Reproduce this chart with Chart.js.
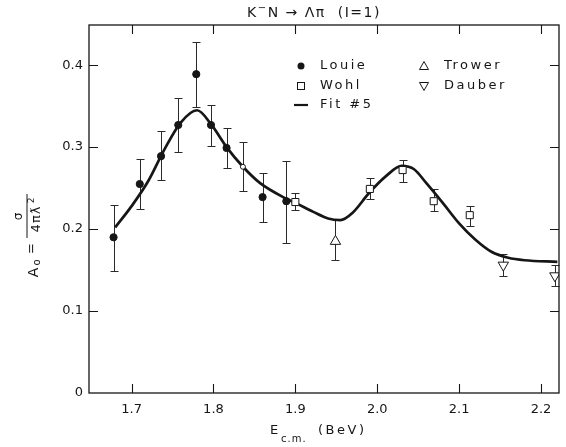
<!DOCTYPE html>
<html>
<head>
<meta charset="utf-8">
<script src="https://cdn.jsdelivr.net/npm/chart.js@4.4.0/dist/chart.umd.min.js"></script>
<style>
  html, body { margin: 0; padding: 0; background: #fff; }
</style>
</head>
<body>
<canvas id="chart" width="566" height="447"></canvas>
<script>
// values (E in BeV, A0 dimensionless)
const louieE  = [1.678, 1.710, 1.736, 1.757, 1.779, 1.797, 1.816, 1.836, 1.860, 1.889];
const louieA  = [0.190, 0.255, 0.289, 0.327, 0.389, 0.327, 0.299, 0.276, 0.239, 0.234];
const louieLo = [0.149, 0.224, 0.260, 0.294, 0.349, 0.301, 0.274, 0.246, 0.209, 0.183];
const louieHi = [0.229, 0.285, 0.320, 0.360, 0.428, 0.352, 0.323, 0.306, 0.268, 0.283];

const wohlE  = [1.900, 1.991, 2.031, 2.069, 2.113];
const wohlA  = [0.233, 0.249, 0.272, 0.234, 0.217];
const wohlLo = [0.223, 0.237, 0.257, 0.222, 0.204];
const wohlHi = [0.244, 0.262, 0.284, 0.249, 0.228];

const trowerE  = [1.949];
const trowerA  = [0.185];
const trowerLo = [0.162];
const trowerHi = [0.212];

const dauberE  = [2.154, 2.217];
const dauberA  = [0.156, 0.143];
const dauberLo = [0.143, 0.130];
const dauberHi = [0.170, 0.156];

const fitE = [1.68, 1.70, 1.72, 1.74, 1.76, 1.78, 1.797, 1.816, 1.836, 1.857, 1.889, 1.90, 1.922, 1.94,
              1.955, 1.97, 1.99, 2.01, 2.03, 2.045, 2.06, 2.08, 2.10, 2.12, 2.14, 2.16, 2.18, 2.22];
const fitA = [0.202, 0.228, 0.258, 0.297, 0.330, 0.345, 0.328, 0.300, 0.276, 0.256, 0.237, 0.232, 0.221, 0.213,
              0.211, 0.220, 0.244, 0.264, 0.277, 0.273, 0.256, 0.232, 0.207, 0.187, 0.172, 0.165, 0.162, 0.160];

const xTickValues = [1.7, 1.8, 1.9, 2.0, 2.1, 2.2];
const yTickValues = [0, 0.1, 0.2, 0.3, 0.4];

const INK = '#161616';
const FONT = '"DejaVu Sans", sans-serif';

function pts(xs, ys) {
  return xs.map((x, i) => ({x: x, y: ys[i]}));
}

const errSets = [
  {e: louieE, lo: louieLo, hi: louieHi},
  {e: wohlE, lo: wohlLo, hi: wohlHi},
  {e: trowerE, lo: trowerLo, hi: trowerHi},
  {e: dauberE, lo: dauberLo, hi: dauberHi}
];

// the 1.836 point is drawn open in the original
const louieFill = louieE.map((e, i) => i === 7 ? '#fff' : INK);
const louieR = louieE.map((e, i) => i === 7 ? 2.5 : 3.6);

const errorBars = {
  id: 'errorBars',
  beforeDatasetsDraw(chart) {
    const ctx = chart.ctx, x = chart.scales.x, y = chart.scales.y;
    ctx.save();
    ctx.strokeStyle = '#2a2a2a';
    ctx.lineWidth = 1;
    errSets.forEach(s => {
      s.e.forEach((e, i) => {
        const px = Math.round(x.getPixelForValue(e)) + 0.5;
        const top = Math.round(y.getPixelForValue(s.hi[i])) + 0.5;
        const bot = Math.round(y.getPixelForValue(s.lo[i])) + 0.5;
        ctx.beginPath();
        ctx.moveTo(px, top); ctx.lineTo(px, bot);
        ctx.moveTo(px - 4, top); ctx.lineTo(px + 4, top);
        ctx.moveTo(px - 4, bot); ctx.lineTo(px + 4, bot);
        ctx.stroke();
      });
    });
    ctx.restore();
  }
};

// box round the plot with inward ticks on all four sides
const frame = {
  id: 'frame',
  afterDatasetsDraw(chart) {
    const ctx = chart.ctx, a = chart.chartArea, x = chart.scales.x, y = chart.scales.y;
    const tl = 9;
    ctx.save();
    ctx.strokeStyle = INK;
    ctx.lineWidth = 1.3;
    ctx.strokeRect(a.left, a.top, a.right - a.left, a.bottom - a.top);
    ctx.lineWidth = 1.1;
    ctx.beginPath();
    xTickValues.forEach(v => {
      const px = Math.round(x.getPixelForValue(v)) + 0.5;
      ctx.moveTo(px, a.bottom); ctx.lineTo(px, a.bottom - tl);
      ctx.moveTo(px, a.top); ctx.lineTo(px, a.top + tl);
    });
    yTickValues.forEach(v => {
      if (v === 0) return;
      const py = Math.round(y.getPixelForValue(v)) + 0.5;
      ctx.moveTo(a.left, py); ctx.lineTo(a.left + tl, py);
      ctx.moveTo(a.right, py); ctx.lineTo(a.right - tl, py);
    });
    ctx.stroke();
    ctx.restore();
  }
};

function spaced(ctx, px) {
  if ('letterSpacing' in ctx) ctx.letterSpacing = px + 'px';
}

const texts = {
  id: 'texts',
  afterDraw(chart) {
    const ctx = chart.ctx;
    ctx.save();
    ctx.fillStyle = INK;
    ctx.strokeStyle = INK;
    ctx.textBaseline = 'middle';

    // title K- N -> Lambda pi (I=1)
    spaced(ctx, 1.5);
    const parts = [['K', 0, 14], ['\u2212', -5, 10], ['N \u2192 \u039B\u03C0  (I=1)', 0, 14]];
    let w = 0;
    parts.forEach(p => { ctx.font = p[2] + 'px ' + FONT; w += ctx.measureText(p[0]).width; });
    let tx = 314 - w / 2;
    parts.forEach(p => {
      ctx.font = p[2] + 'px ' + FONT;
      ctx.fillText(p[0], tx, 13 + p[1]);
      tx += ctx.measureText(p[0]).width;
    });

    // legend
    spaced(ctx, 2.5);
    ctx.font = '13px ' + FONT;
    ctx.textAlign = 'left';
    const lx1 = 301, lx2 = 424, r1 = 66, r2 = 86, r3 = 105;
    ctx.lineWidth = 1;
    ctx.beginPath(); ctx.arc(lx1, r1, 3.5, 0, Math.PI * 2); ctx.fill();
    ctx.strokeRect(lx1 - 3.5, r2 - 3.5, 7, 7);
    ctx.lineWidth = 2.2;
    ctx.beginPath(); ctx.moveTo(lx1 - 7, r3); ctx.lineTo(lx1 + 7, r3); ctx.stroke();
    ctx.lineWidth = 1;
    ctx.beginPath(); ctx.moveTo(lx2, r1 - 4.5); ctx.lineTo(lx2 + 4.5, r1 + 3.5); ctx.lineTo(lx2 - 4.5, r1 + 3.5); ctx.closePath(); ctx.stroke();
    ctx.beginPath(); ctx.moveTo(lx2, r2 + 4.5); ctx.lineTo(lx2 + 4.5, r2 - 3.5); ctx.lineTo(lx2 - 4.5, r2 - 3.5); ctx.closePath(); ctx.stroke();
    ctx.fillText('Louie', lx1 + 19, r1);
    ctx.fillText('Wohl', lx1 + 19, r2);
    ctx.fillText('Fit #5', lx1 + 19, r3);
    ctx.fillText('Trower', lx2 + 20, r1);
    ctx.fillText('Dauber', lx2 + 20, r2);

    // x title: E c.m. (BeV)
    spaced(ctx, 2);
    ctx.font = '13px ' + FONT;
    ctx.fillText('E', 270, 431);
    ctx.font = '10px ' + FONT;
    spaced(ctx, 1);
    ctx.fillText('c.m.', 281, 439);
    spaced(ctx, 2.5);
    ctx.font = '13px ' + FONT;
    ctx.fillText('(BeV)', 318, 431);

    // y title: A0 = sigma / (4 pi lambda-bar^2), rotated
    ctx.translate(28, 240);
    ctx.rotate(-Math.PI / 2);
    spaced(ctx, 1);
    ctx.font = '14px ' + FONT;
    ctx.textAlign = 'center';
    ctx.fillText('A', -32, 6);
    ctx.font = '10px ' + FONT;
    ctx.fillText('o', -22, 9);
    ctx.font = '13px ' + FONT;
    ctx.fillText('=', -8, 4);
    ctx.lineWidth = 1;
    ctx.beginPath(); ctx.moveTo(2, -1); ctx.lineTo(46, -1); ctx.stroke();
    ctx.font = '12px ' + FONT;
    ctx.fillText('\u03C3', 24, -9);
    ctx.font = '13px ' + FONT;
    ctx.fillText('4\u03C0\u019B', 21, 9);
    ctx.font = '9px ' + FONT;
    ctx.fillText('2', 40, 4);
    ctx.restore();
  }
};

new Chart(document.getElementById('chart'), {
  type: 'scatter',
  data: {
    datasets: [
      {
        label: 'Louie',
        data: pts(louieE, louieA),
        pointStyle: 'circle',
        pointRadius: louieR,
        pointBackgroundColor: louieFill,
        pointBorderColor: INK,
        pointBorderWidth: 1,
        order: 0
      },
      {
        label: 'Wohl',
        data: pts(wohlE, wohlA),
        pointStyle: 'rect',
        pointRadius: 5,
        pointBackgroundColor: '#fff',
        pointBorderColor: INK,
        pointBorderWidth: 1,
        order: 0
      },
      {
        label: 'Trower',
        data: pts(trowerE, trowerA),
        pointStyle: 'triangle',
        pointRadius: 6,
        pointBackgroundColor: '#fff',
        pointBorderColor: INK,
        pointBorderWidth: 1,
        order: 0
      },
      {
        label: 'Dauber',
        data: pts(dauberE, dauberA),
        pointStyle: 'triangle',
        rotation: 180,
        pointRadius: 6,
        pointBackgroundColor: '#fff',
        pointBorderColor: INK,
        pointBorderWidth: 1,
        order: 0
      },
      {
        label: 'Fit #5',
        type: 'line',
        data: pts(fitE, fitA),
        borderColor: INK,
        borderWidth: 2.7,
        pointRadius: 0,
        fill: false,
        tension: 0.4,
        cubicInterpolationMode: 'monotone',
        order: 1
      }
    ]
  },
  options: {
    responsive: false,
    devicePixelRatio: 1,
    animation: false,
    layout: { padding: { top: 25, right: 3, left: 0, bottom: 0 } },
    plugins: {
      legend: { display: false },
      tooltip: { enabled: false },
      title: { display: false }
    },
    scales: {
      x: {
        type: 'linear',
        min: 1.648,
        max: 2.222,
        grid: { display: false, drawTicks: false },
        border: { display: false },
        ticks: {
          stepSize: 0.1,
          includeBounds: false,
          padding: 9,
          color: INK,
          font: { family: 'DejaVu Sans', size: 13 },
          callback: v => v.toFixed(1)
        },
        afterFit: s => { s.height = 54; }
      },
      y: {
        type: 'linear',
        min: 0,
        max: 0.449,
        grid: { display: false, drawTicks: false },
        border: { display: false },
        ticks: {
          stepSize: 0.1,
          includeBounds: false,
          padding: 6,
          color: INK,
          font: { family: 'DejaVu Sans', size: 13 },
          callback: v => v === 0 ? '0' : v.toFixed(1)
        },
        afterFit: s => { s.width = 89; }
      }
    }
  },
  plugins: [errorBars, frame, texts]
});
</script>
</body>
</html>
